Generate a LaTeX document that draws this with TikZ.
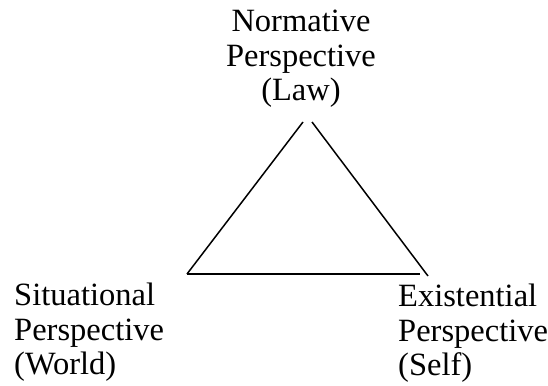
\documentclass[tikz,border=0pt]{standalone}
\usepackage{fontspec}
\setmainfont{Liberation Serif}
\usepackage{tikz}
\usetikzlibrary{positioning, calc}

\begin{document}
\begin{tikzpicture}[
  x=1pt, y=-1pt,
  every node/.style={font=\fontsize{32.5}{34.5}\selectfont, inner sep=0pt},
  persp/.style={align=left},
  edge/.style={line width=1.5pt}
]
\useasboundingbox (0,0) rectangle (548,385);

% Perspectives
\node[persp, align=center, anchor=north] (norm) at (301,10) {Normative\\Perspective\\(Law)};
\node[persp, anchor=north west] (situ) at (14,283) {Situational\\Perspective\\(World)};
\node[persp, anchor=north west] (exist) at (398,284) {Existential\\Perspective\\(Self)};

% Corners of the triangle
\coordinate (topL) at (303,122);
\coordinate (topR) at (312,122);
\coordinate (botL) at (187,274);
\coordinate (botR) at (420,274);
\coordinate (endR) at (428,276);

% Triangle
\draw[edge] (botL) -- (topL);
\draw[edge] (topR) -- (endR);
\draw[edge] (botL) -- (botR);

\end{tikzpicture}
\end{document}
